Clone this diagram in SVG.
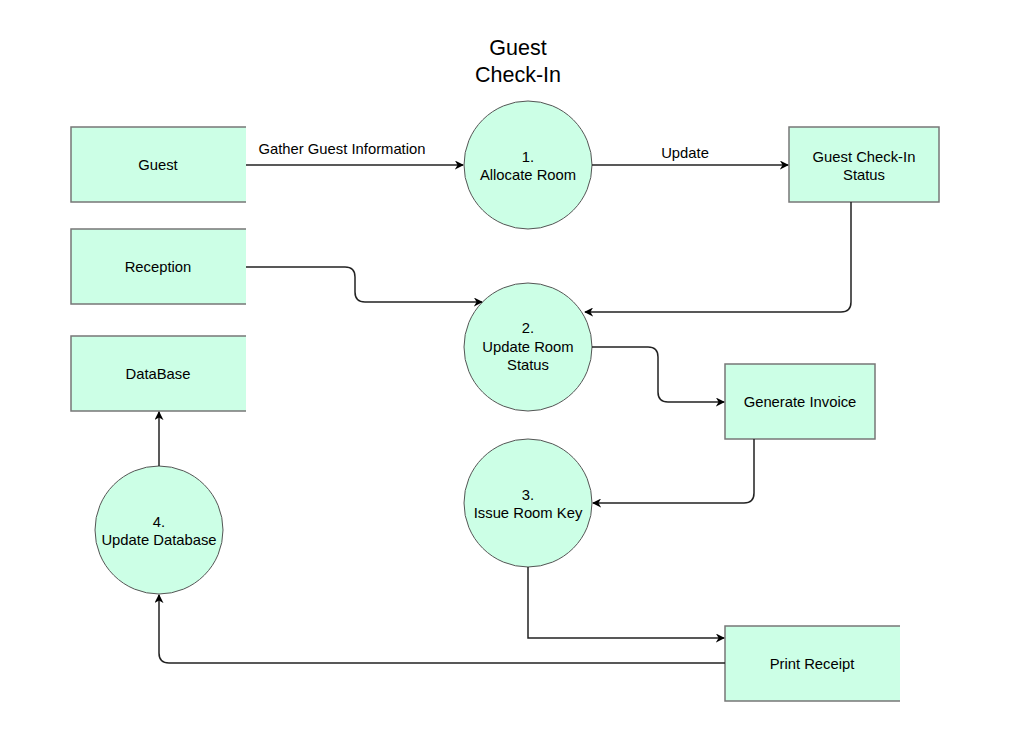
<svg xmlns="http://www.w3.org/2000/svg" width="1035" height="737" viewBox="0 0 1035 737">
<style>
text{font-family:"Liberation Sans",Arial,sans-serif;font-size:14.8px;fill:#000;text-anchor:middle}
.title{font-size:21.5px}
.fill{fill:#CCFFE6;stroke:none}
.edge{fill:none;stroke:#777;stroke-width:1.5}
.box{fill:#CCFFE6;stroke:#777;stroke-width:1.5}
.proc{fill:#CCFFE6;stroke:#555;stroke-width:1}
.conn{fill:none;stroke:#222;stroke-width:1.5}
</style>
<defs>
<marker id="arr" viewBox="0 0 10 10" refX="9" refY="5" markerWidth="9" markerHeight="9" markerUnits="userSpaceOnUse" orient="auto">
<path d="M0,0 L10,5 L0,10 L3,5 Z" fill="#000"/>
</marker>
</defs>
<rect width="1035" height="737" fill="#fff"/>
<g id="title">
<text class="title" x="518" y="55">Guest</text>
<text class="title" x="518" y="82">Check-In</text>
</g>
<g id="guest">
<rect class="fill" x="71" y="127" width="175" height="75"/>
<path class="edge" d="M246,127 H71 V202 H246"/>
<text x="158" y="170">Guest</text>
</g>
<g id="reception">
<rect class="fill" x="71" y="229" width="175" height="75"/>
<path class="edge" d="M246,229 H71 V304 H246"/>
<text x="158" y="272">Reception</text>
</g>
<g id="database">
<rect class="fill" x="71" y="336" width="175" height="75"/>
<path class="edge" d="M246,336 H71 V411 H246"/>
<text x="158" y="379">DataBase</text>
</g>
<g id="print-receipt">
<rect class="fill" x="725" y="626" width="175" height="75"/>
<path class="edge" d="M900,626 H725 V701 H900"/>
<text x="812" y="669">Print Receipt</text>
</g>
<g id="checkin-status">
<rect class="box" x="789" y="127" width="150" height="75"/>
<text x="864" y="162">Guest Check-In</text>
<text x="864" y="180">Status</text>
</g>
<g id="generate-invoice">
<rect class="box" x="725" y="364" width="150" height="75"/>
<text x="800" y="407">Generate Invoice</text>
</g>
<g id="p1">
<circle class="proc" cx="528" cy="165" r="64"/>
<text x="528" y="162">1.</text>
<text x="528" y="180">Allocate Room</text>
</g>
<g id="p2">
<circle class="proc" cx="528" cy="347" r="64"/>
<text x="528" y="333">2.</text>
<text x="528" y="352">Update Room</text>
<text x="528" y="370">Status</text>
</g>
<g id="p3">
<circle class="proc" cx="528" cy="503" r="64"/>
<text x="528" y="500">3.</text>
<text x="528" y="518">Issue Room Key</text>
</g>
<g id="p4">
<circle class="proc" cx="159" cy="530" r="64"/>
<text x="159" y="527">4.</text>
<text x="159" y="545">Update Database</text>
</g>
<g id="connectors">
<path class="conn" marker-end="url(#arr)" d="M246,165 H463"/>
<text x="342" y="154">Gather Guest Information</text>
<path class="conn" marker-end="url(#arr)" d="M592,165 H788"/>
<text x="685" y="158">Update</text>
<path class="conn" marker-end="url(#arr)" d="M246,267 H345 Q355,267 355,277 V292 Q355,302 365,302 H482"/>
<path class="conn" marker-end="url(#arr)" d="M851,202 V302 Q851,312 841,312 H585"/>
<path class="conn" marker-end="url(#arr)" d="M592,347 H648 Q658,347 658,357 V392 Q658,402 668,402 H724"/>
<path class="conn" marker-end="url(#arr)" d="M754,439 V493 Q754,503 744,503 H593"/>
<path class="conn" marker-end="url(#arr)" d="M528,567 V638 H724"/>
<path class="conn" marker-end="url(#arr)" d="M725,663 H169 Q159,663 159,653 V595"/>
<path class="conn" marker-end="url(#arr)" d="M159,466 V412"/>
</g>
</svg>
